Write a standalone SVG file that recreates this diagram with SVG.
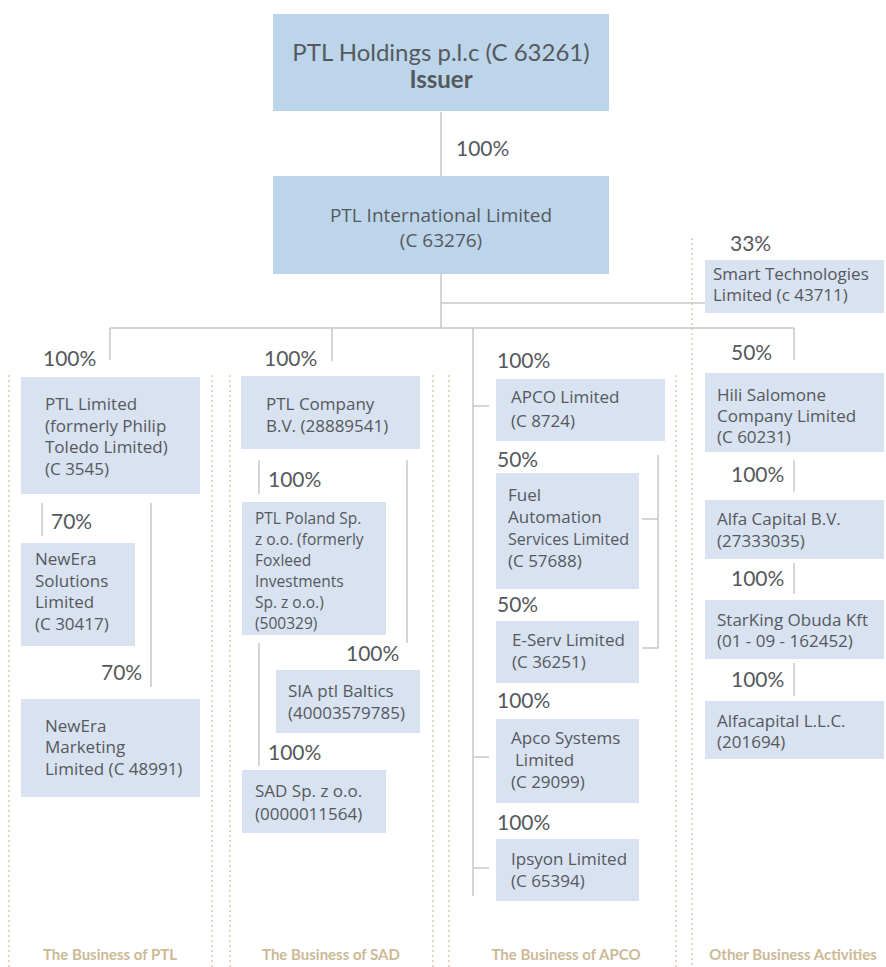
<svg xmlns="http://www.w3.org/2000/svg" width="886" height="967" viewBox="0 0 886 967">
<style>
.bg{fill:#ffffff}
.top{fill:#bdd5ea}
.box{fill:#d8e2f0}
.t{font-family:Lato,"Noto Sans","Liberation Sans",sans-serif;fill:#55595d}
.n{font-family:"Open Sans","Noto Sans","Liberation Sans",sans-serif;font-size:17px}
.s{font-size:15.5px}
.p{font-size:21px}
.h{font-size:24px}
.m{font-family:"Open Sans","Noto Sans","Liberation Sans",sans-serif;font-size:19px}
.lab{font-family:Lato,"Noto Sans","Liberation Sans",sans-serif;font-size:15px;font-weight:bold;fill:#ccb995;text-anchor:middle}
.c{stroke:#c8c8c8;stroke-width:1.5;fill:none}
.d{stroke:#d4bf9c;stroke-width:1.2;stroke-dasharray:2 3;fill:none}
</style>
<rect class="bg" width="886" height="967"/>
<g id="dividers">
<path class="d" d="M9 375V967M212 375V967M230 375V967M433 375V967M449 375V967M676 375V967M692 238V967"/>
</g>
<g id="connectors">
<path class="c" d="M441 112V176M441 274V328M441 303H705M110 328H794M110 328V360M332 328V361M473 328V896M794 328V360"/>
<path class="c" d="M42 503V536M151 503V687"/>
<path class="c" d="M259 460V494M407 460V643M259 643V766"/>
<path class="c" d="M473 406H489M473 757H489M473 868H489M642 519H658M658 455V648H642"/>
<path class="c" d="M794 460V492M794 563V594M794 663V696"/>
</g>
<g id="percentages">
<text class="t p" x="456" y="156">100%</text>
<text class="t p" x="43" y="366">100%</text>
<text class="t p" x="264" y="366">100%</text>
<text class="t p" x="497" y="368">100%</text>
<text class="t p" x="731" y="360">50%</text>
<text class="t p" x="730" y="251">33%</text>
<text class="t p" x="51" y="529">70%</text>
<text class="t p" x="101" y="680">70%</text>
<text class="t p" x="268" y="487">100%</text>
<text class="t p" x="346" y="661">100%</text>
<text class="t p" x="268" y="760">100%</text>
<text class="t p" x="497" y="467">50%</text>
<text class="t p" x="497" y="612">50%</text>
<text class="t p" x="497" y="708">100%</text>
<text class="t p" x="497" y="830">100%</text>
<text class="t p" x="731" y="482">100%</text>
<text class="t p" x="731" y="586">100%</text>
<text class="t p" x="731" y="687">100%</text>
</g>
<g id="ptl-holdings">
<rect class="top" x="273" y="14" width="336" height="97"/>
<text class="t h" x="441" y="61" text-anchor="middle">PTL Holdings p.l.c (C 63261)</text>
<text class="t h" x="441" y="88" text-anchor="middle" font-weight="bold">Issuer</text>
</g>
<g id="ptl-international">
<rect class="top" x="273" y="176" width="336" height="98"/>
<text class="t m" x="441" y="222" text-anchor="middle">PTL International Limited</text>
<text class="t m" x="441" y="247" text-anchor="middle">(C 63276)</text>
</g>
<g id="ptl-limited">
<rect class="box" x="21" y="377" width="179" height="117"/>
<text class="t n" x="45" y="410">PTL Limited</text>
<text class="t n" x="45" y="432">(formerly Philip</text>
<text class="t n" x="45" y="453">Toledo Limited)</text>
<text class="t n" x="45" y="475">(C 3545)</text>
</g>
<g id="newera-solutions">
<rect class="box" x="21" y="543" width="114" height="103"/>
<text class="t n" x="35" y="565">NewEra</text>
<text class="t n" x="35" y="587">Solutions</text>
<text class="t n" x="35" y="608">Limited</text>
<text class="t n" x="35" y="630">(C 30417)</text>
</g>
<g id="newera-marketing">
<rect class="box" x="21" y="699" width="179" height="98"/>
<text class="t n" x="45" y="732">NewEra</text>
<text class="t n" x="45" y="753">Marketing</text>
<text class="t n" x="45" y="775">Limited (C 48991)</text>
</g>
<g id="ptl-company">
<rect class="box" x="241" y="376" width="179" height="73"/>
<text class="t n" x="266" y="410">PTL Company</text>
<text class="t n" x="266" y="432">B.V. (28889541)</text>
</g>
<g id="ptl-poland">
<rect class="box" x="242" y="502" width="144" height="133"/>
<text class="t n s" x="255" y="524">PTL Poland Sp.</text>
<text class="t n s" x="255" y="545">z o.o. (formerly</text>
<text class="t n s" x="255" y="566">Foxleed</text>
<text class="t n s" x="255" y="587">Investments</text>
<text class="t n s" x="255" y="608">Sp. z o.o.)</text>
<text class="t n s" x="255" y="629">(500329)</text>
</g>
<g id="sia-ptl-baltics">
<rect class="box" x="276" y="670" width="144" height="63"/>
<text class="t n" x="288" y="697">SIA ptl Baltics</text>
<text class="t n" x="288" y="719">(40003579785)</text>
</g>
<g id="sad">
<rect class="box" x="242" y="770" width="144" height="63"/>
<text class="t n" x="255" y="797">SAD Sp. z o.o.</text>
<text class="t n" x="255" y="820">(0000011564)</text>
</g>
<g id="apco-limited">
<rect class="box" x="496" y="379" width="169" height="62"/>
<text class="t n" x="511" y="403">APCO Limited</text>
<text class="t n" x="511" y="427">(C 8724)</text>
</g>
<g id="fuel-automation">
<rect class="box" x="496" y="473" width="143" height="116"/>
<text class="t n" x="508" y="501">Fuel</text>
<text class="t n" x="508" y="523">Automation</text>
<text class="t n" x="508" y="545" textLength="121" lengthAdjust="spacingAndGlyphs">Services Limited</text>
<text class="t n" x="508" y="567">(C 57688)</text>
</g>
<g id="e-serv">
<rect class="box" x="496" y="621" width="143" height="62"/>
<text class="t n" x="512" y="646">E-Serv Limited</text>
<text class="t n" x="512" y="668">(C 36251)</text>
</g>
<g id="apco-systems">
<rect class="box" x="496" y="719" width="143" height="84"/>
<text class="t n" x="511" y="744">Apco Systems</text>
<text class="t n" x="515" y="766">Limited</text>
<text class="t n" x="511" y="788">(C 29099)</text>
</g>
<g id="ipsyon">
<rect class="box" x="496" y="839" width="143" height="62"/>
<text class="t n" x="511" y="865">Ipsyon Limited</text>
<text class="t n" x="511" y="887">(C 65394)</text>
</g>
<g id="smart-technologies">
<rect class="box" x="705" y="260" width="179" height="53"/>
<text class="t n" x="713" y="280">Smart Technologies</text>
<text class="t n" x="713" y="301">Limited (c 43711)</text>
</g>
<g id="hili-salomone">
<rect class="box" x="705" y="373" width="179" height="79"/>
<text class="t n" x="717" y="401">Hili Salomone</text>
<text class="t n" x="717" y="422">Company Limited</text>
<text class="t n" x="717" y="443">(C 60231)</text>
</g>
<g id="alfa-capital">
<rect class="box" x="705" y="500" width="179" height="59"/>
<text class="t n" x="717" y="525">Alfa Capital B.V.</text>
<text class="t n" x="717" y="547">(27333035)</text>
</g>
<g id="starking">
<rect class="box" x="705" y="600" width="179" height="59"/>
<text class="t n" x="717" y="626">StarKing Obuda Kft</text>
<text class="t n" x="717" y="647">(01 - 09 - 162452)</text>
</g>
<g id="alfacapital-llc">
<rect class="box" x="705" y="701" width="179" height="58"/>
<text class="t n" x="717" y="727">Alfacapital L.L.C.</text>
<text class="t n" x="717" y="748">(201694)</text>
</g>
<g id="labels">
<text class="lab" x="110" y="960">The Business of PTL</text>
<text class="lab" x="331" y="960">The Business of SAD</text>
<text class="lab" x="566" y="960">The Business of APCO</text>
<text class="lab" x="793" y="960">Other Business Activities</text>
</g>
</svg>
